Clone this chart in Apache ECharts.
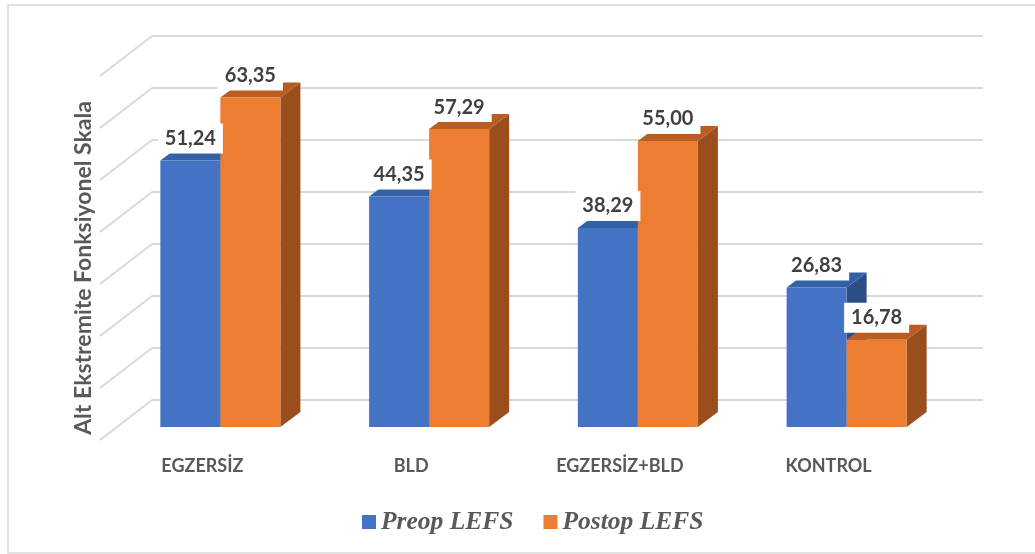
<!DOCTYPE html>
<html>
<head>
<meta charset="utf-8">
<script src="https://cdn.jsdelivr.net/npm/echarts@6/dist/echarts.min.js"></script>
<style>
html,body{margin:0;padding:0;background:#fff;}
#chart{width:1035px;height:554px;}
</style>
</head>
<body>
<div id="chart"></div>
<script>
var categories = ['EGZERSİZ', 'BLD', 'EGZERSİZ+BLD', 'KONTROL'];
var preopLEFS = [51.24, 44.35, 38.29, 26.83];
var postopLEFS = [63.35, 57.29, 55.00, 16.78];
var seriesNames = ['Preop LEFS', 'Postop LEFS'];
var gridTicks = [0, 10, 20, 30, 40, 50, 60, 70];
var yTitle = 'Alt Ekstremite Fonksiyonel Skala';

var DX = 20, DY = 15;          // bar depth offset
var WALL_DX = -52, WALL_DY = 40; // side wall offset
var BAR_FRAC = 0.2875;
var GRID_COLOR = '#D9D9D9';

var palettes = [
  {front: '#4472C4', top: '#3460A8', side: '#2C4D86'},
  {front: '#ED7D31', top: '#BA5D20', side: '#9A4E1E'}
];

function fmt(v) { return v.toFixed(2).replace('.', ','); }

function makeBar(idx) {
  var pal = palettes[idx];
  return function (params, api) {
    var ci = api.value(0), v = api.value(1);
    var base = api.coord([ci, 0]);
    var top = api.coord([ci, v]);
    var band = api.size([1, 0])[0];
    var w = band * BAR_FRAC;
    var x0 = idx === 0 ? base[0] - w : base[0];
    var x1 = x0 + w;
    var yb = base[1], yt = top[1];
    return {
      type: 'group',
      children: [
        {type: 'polygon', shape: {points: [[x1, yb], [x1 + DX, yb - DY], [x1 + DX, yt - DY], [x1, yt]]}, style: {fill: pal.side}},
        {type: 'polygon', shape: {points: [[x0, yt], [x0 + DX, yt - DY], [x1 + DX, yt - DY], [x1, yt]]}, style: {fill: pal.top}},
        {type: 'rect', shape: {x: x0, y: yt, width: w, height: yb - yt}, style: {fill: pal.front}},
        {type: 'text', z2: 100, style: {
          text: fmt(v), x: (x0 + x1) / 2, y: yt - 22, align: 'center', verticalAlign: 'middle',
          fill: '#404040', font: 'bold 20px Lato', backgroundColor: '#ffffff', padding: [5, 7], lineHeight: 20
        }}
      ]
    };
  };
}

var chart = echarts.init(document.getElementById('chart'), null, {renderer: 'canvas'});
chart.setOption({
  backgroundColor: '#ffffff',
  animation: false,
  grid: [
    {left: 116, right: 84, top: 63, bottom: 127},
    {left: 152, right: 52, top: 36, bottom: 154}
  ],
  xAxis: [
    {type: 'category', gridIndex: 0, data: categories,
     axisLine: {show: false}, axisTick: {show: false},
     axisLabel: {margin: 30, color: '#595959', fontFamily: 'Lato', fontWeight: 'bold', fontSize: 18, padding: [0, 36, 0, 0]}},
    {type: 'value', gridIndex: 1, min: 0, max: 1, show: false}
  ],
  yAxis: [
    {type: 'value', gridIndex: 0, min: 0, max: 70, interval: 10, show: false},
    {type: 'value', gridIndex: 1, min: 0, max: 70, interval: 10,
     axisLine: {show: false}, axisTick: {show: false}, axisLabel: {show: false},
     splitLine: {show: true, lineStyle: {color: GRID_COLOR, width: 2}}}
  ],
  legend: {
    data: seriesNames, left: 357, top: 504, itemWidth: 14, itemHeight: 14, itemGap: 30, icon: 'rect',
    textStyle: {fontFamily: 'Liberation Serif', fontStyle: 'italic', fontWeight: 'bold', fontSize: 25.5, color: '#595959'}
  },
  graphic: [
    {type: 'rect', silent: true, shape: {x: 8, y: 5, width: 1040, height: 548},
     style: {fill: 'none', stroke: '#D9D9D9', lineWidth: 1.5}},
    {type: 'text', x: 84, y: 268, rotation: Math.PI / 2,
     style: {text: yTitle, align: 'center', verticalAlign: 'middle', fill: '#595959', font: 'bold 23px Lato'}}
  ],
  series: [
    {type: 'custom', name: 'walls', xAxisIndex: 1, yAxisIndex: 1, silent: true, z: 1,
     data: gridTicks.map(function (t) { return [0, t]; }),
     renderItem: function (params, api) {
       var p = api.coord([0, api.value(1)]);
       return {type: 'line', shape: {x1: p[0] + WALL_DX, y1: p[1] + WALL_DY, x2: p[0], y2: p[1]},
               style: {stroke: GRID_COLOR, lineWidth: 2}};
     }},
    {type: 'custom', name: seriesNames[0], xAxisIndex: 0, yAxisIndex: 0, itemStyle: {color: palettes[0].front},
     data: preopLEFS.map(function (v, i) { return [i, v]; }), renderItem: makeBar(0)},
    {type: 'custom', name: seriesNames[1], xAxisIndex: 0, yAxisIndex: 0, itemStyle: {color: palettes[1].front},
     data: postopLEFS.map(function (v, i) { return [i, v]; }), renderItem: makeBar(1)}
  ]
});
</script>
</body>
</html>
